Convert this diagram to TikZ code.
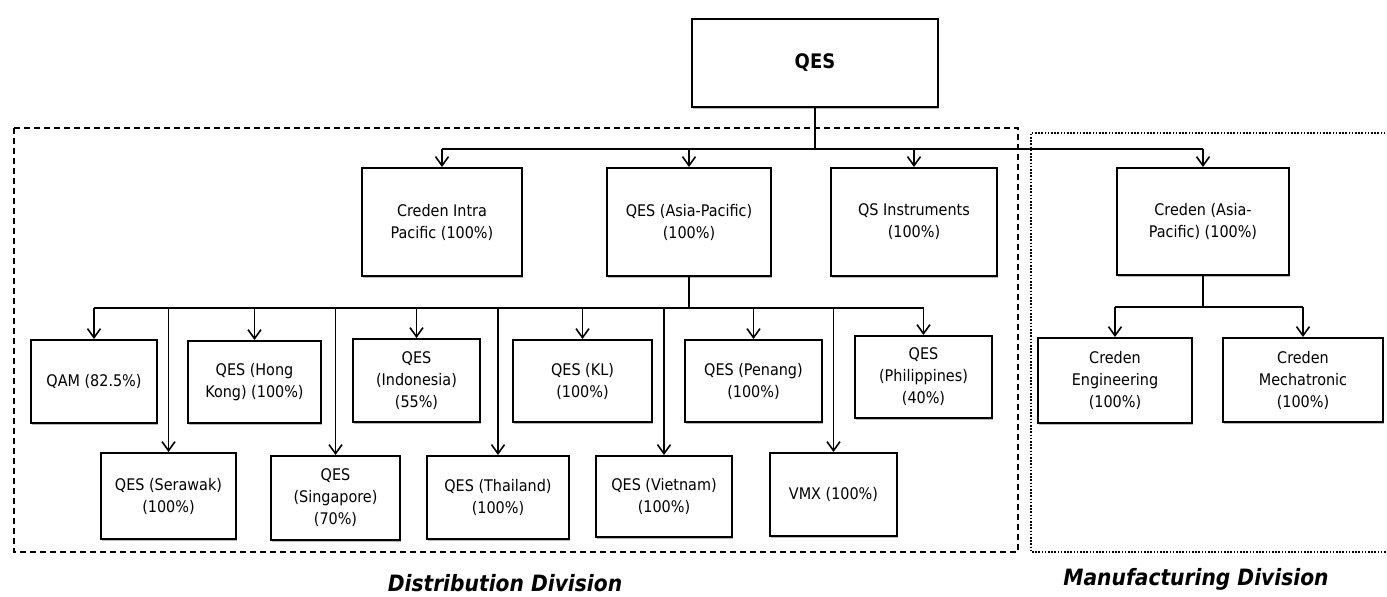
\documentclass[tikz,border=0pt]{standalone}
\usepackage{fontspec}
\setmainfont{DejaVu Sans Condensed}
\usetikzlibrary{arrows.meta,shadows}
\tikzset{
  orgbox/.style={draw=black, line width=2pt, fill=white, align=center, inner sep=2pt,
    font=\fontsize{16}{22}\selectfont,
    drop shadow={shadow xshift=0.6pt, shadow yshift=-2.2pt, fill=black!35, opacity=0.8}},
  conn/.style={line width=1.8pt, draw=black},
  arr/.style={conn, -{Straight Barb[length=9pt,width=13pt,line width=1.6pt]}},
  divlabel/.style={font=\fontsize{22.5}{26}\selectfont\bfseries\itshape, inner sep=0pt},
}
\begin{document}
\begin{tikzpicture}[x=1pt,y=-1pt]
\useasboundingbox[fill=white] (0,0) rectangle (1387,597);

% division frames
\draw[line width=1.7pt, dash pattern=on 6pt off 4pt] (14,128) rectangle (1018,552);
\draw[line width=2.2pt, dash pattern=on 1.6pt off 1.6pt] (1395,133) -- (1031,133) -- (1031,552) -- (1395,552);

% top
\node[orgbox, minimum width=246pt, minimum height=88pt, font=\fontsize{20}{24}\selectfont\bfseries] (qes) at (815,63) {QES};

% level 1
\node[orgbox, minimum width=160pt, minimum height=108pt] (cip) at (442,222) {Creden Intra\\Pacific (100\%)};
\node[orgbox, minimum width=164pt, minimum height=108pt] (qap) at (689,222) {QES (Asia-Pacific)\\(100\%)};
\node[orgbox, minimum width=166pt, minimum height=108pt] (qsi) at (914,222) {QS Instruments\\(100\%)};
\node[orgbox, minimum width=172pt, minimum height=107pt] (cap) at (1203,221.5) {Creden (Asia-\\Pacific) (100\%)};

% level 2 top row
\node[orgbox, minimum width=126pt, minimum height=83pt] (qam) at (94,381.5) {QAM (82.5\%)};
\node[orgbox, minimum width=133pt, minimum height=82pt] (qhk) at (254.5,382) {QES (Hong\\Kong) (100\%)};
\node[orgbox, minimum width=127pt, minimum height=83pt] (qid) at (416.5,380.5) {QES\\(Indonesia)\\(55\%)};
\node[orgbox, minimum width=139pt, minimum height=82pt] (qkl) at (582.5,381) {QES (KL)\\(100\%)};
\node[orgbox, minimum width=137pt, minimum height=82pt] (qpn) at (753.5,381) {QES (Penang)\\(100\%)};
\node[orgbox, minimum width=137pt, minimum height=82pt] (qph) at (923.5,377) {QES\\(Philippines)\\(40\%)};

% level 2 bottom row
\node[orgbox, minimum width=135pt, minimum height=86pt] (qsw) at (168.5,496) {QES (Serawak)\\(100\%)};
\node[orgbox, minimum width=129pt, minimum height=84pt] (qsg) at (335.5,498) {QES\\(Singapore)\\(70\%)};
\node[orgbox, minimum width=142pt, minimum height=83pt] (qth) at (498,497.5) {QES (Thailand)\\(100\%)};
\node[orgbox, minimum width=136pt, minimum height=81pt] (qvn) at (664,496.5) {QES (Vietnam)\\(100\%)};
\node[orgbox, minimum width=127pt, minimum height=83pt] (vmx) at (833.5,494.5) {VMX (100\%)};

% manufacturing level 2
\node[orgbox, minimum width=154pt, minimum height=85pt] (ceng) at (1115,380.5) {Creden\\Engineering\\(100\%)};
\node[orgbox, minimum width=160pt, minimum height=84pt] (cmech) at (1303,380) {Creden\\Mechatronic\\(100\%)};

% bus coordinates
\coordinate (bus1) at (0,149);
\coordinate (bus2) at (0,308);
\coordinate (bus3) at (0,307);

% connectors level 0 -> 1
\draw[conn] (qes.south) -- (qes.south |- bus1);
\draw[conn] (cip.north |- bus1) -- (cap.north |- bus1);
\foreach \n in {cip,qap,qsi,cap} \draw[arr] (\n.north |- bus1) -- (\n.north);

% connectors QES Asia-Pacific -> subsidiaries
\draw[conn] (qap.south) -- (qap.south |- bus2);
\draw[conn] (qam.north |- bus2) -- (qph.north |- bus2);
\foreach \n in {qam,qhk,qid,qkl,qpn,qph,qsw,qsg,qth,qvn,vmx} \draw[arr] (\n.north |- bus2) -- (\n.north);

% connectors Creden Asia-Pacific -> subsidiaries
\draw[conn] (cap.south) -- (cap.south |- bus3);
\draw[conn] (ceng.north |- bus3) -- (cmech.north |- bus3);
\foreach \n in {ceng,cmech} \draw[arr] (\n.north |- bus3) -- (\n.north);

% division labels
\node[divlabel] (dist) at (505,583) {Distribution Division};
\node[divlabel] (manu) at (1196,579) {Manufacturing Division};
\end{tikzpicture}
\end{document}
